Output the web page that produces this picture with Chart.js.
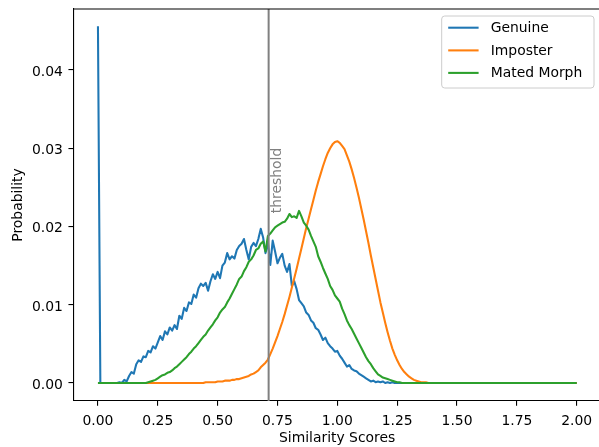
<!DOCTYPE html>
<html><head><meta charset="utf-8">
<script src="https://cdn.jsdelivr.net/npm/chart.js@4.4.0/dist/chart.umd.min.js"></script>
<style>
html,body{margin:0;padding:0;overflow:hidden;background:#fff;width:599px;height:447px}
#wrap{width:599px;height:447px;position:relative;overflow:hidden}
canvas{display:block}
</style></head>
<body><div id="wrap"><canvas id="c" width="601" height="447"></canvas></div>
<script>
// Similarity score bins (x categories)
const scores = [
0.00,0.01,0.02,0.03,0.04,0.05,0.06,0.07,0.08,0.09,
0.10,0.11,0.12,0.13,0.14,0.15,0.16,0.17,0.18,0.19,
0.20,0.21,0.22,0.23,0.24,0.25,0.26,0.27,0.28,0.29,
0.30,0.31,0.32,0.33,0.34,0.35,0.36,0.37,0.38,0.39,
0.40,0.41,0.42,0.43,0.44,0.45,0.46,0.47,0.48,0.49,
0.50,0.51,0.52,0.53,0.54,0.55,0.56,0.57,0.58,0.59,
0.60,0.61,0.62,0.63,0.64,0.65,0.66,0.67,0.68,0.69,
0.70,0.71,0.72,0.73,0.74,0.75,0.76,0.77,0.78,0.79,
0.80,0.81,0.82,0.83,0.84,0.85,0.86,0.87,0.88,0.89,
0.90,0.91,0.92,0.93,0.94,0.95,0.96,0.97,0.98,0.99,
1.00,1.01,1.02,1.03,1.04,1.05,1.06,1.07,1.08,1.09,
1.10,1.11,1.12,1.13,1.14,1.15,1.16,1.17,1.18,1.19,
1.20,1.21,1.22,1.23,1.24,1.25,1.26,1.27,1.28,1.29,
1.30,1.31,1.32,1.33,1.34,1.35,1.36,1.37,1.38,1.39,
1.40,2.00];

const genuine = [
0.0456,0,0,0,0,0,0,0,0,0.0001,
0.0000,0.0004,0.0002,0.0009,0.0014,0.0012,0.0024,0.0029,0.0027,0.0034,
0.0033,0.0041,0.0039,0.0047,0.0044,0.0052,0.0060,0.0055,0.0066,0.0062,
0.0071,0.0067,0.0074,0.0069,0.0086,0.0082,0.0096,0.0092,0.0103,0.0101,
0.0113,0.0109,0.0121,0.0127,0.0124,0.0128,0.0118,0.0130,0.0139,0.0133,
0.0142,0.0134,0.0150,0.0154,0.0166,0.0158,0.0162,0.0159,0.0170,0.0175,
0.0178,0.0184,0.0170,0.0158,0.0174,0.0179,0.0175,0.0184,0.0197,0.0186,
0.0166,0.0180,0.0151,0.0182,0.0168,0.0153,0.0160,0.0165,0.0150,0.0142,
0.0152,0.0124,0.0130,0.0120,0.0106,0.0102,0.0098,0.0090,0.0087,0.0080,
0.0077,0.0070,0.0068,0.0062,0.0055,0.0058,0.0051,0.0047,0.0044,0.0040,
0.0041,0.0035,0.0031,0.0026,0.0021,0.0023,0.0018,0.0016,0.0015,0.0012,
0.0010,0.0008,0.0006,0.0004,0.0002,0.0003,0.0001,0.0002,0.0001,0.0002,
0.0000,0.0001,0.0000,0.0001,0,0,0,0,0,0,
0,0,0,0,0,0,0,0,0,0,
0,0];

const imposter = [
0,0,0,0,0,0,0,0,0,0,
0,0,0,0,0,0,0,0,0,0,
0,0,0,0,0,0,0,0,0,0,
0,0,0,0,0,0,0,0,0,0,
0,0,0,0,0,0.0001,0.0001,0.0001,0.0001,0.0001,
0.0002,0.0002,0.0002,0.0003,0.0003,0.0003,0.0004,0.0004,0.0005,0.0005,
0.0006,0.0007,0.0008,0.0009,0.0011,0.0012,0.0014,0.0016,0.0020,0.0023,
0.0026,0.0030,0.0037,0.0044,0.0052,0.0060,0.0069,0.0078,0.0088,0.0099,
0.0110,0.0122,0.0134,0.0146,0.0159,0.0172,0.0185,0.0198,0.0210,0.0222,
0.0234,0.0246,0.0257,0.0267,0.0277,0.0286,0.0294,0.0300,0.0305,0.0308,
0.0309,0.0307,0.0303,0.0299,0.0291,0.0283,0.0273,0.0262,0.0250,0.0237,
0.0223,0.0209,0.0194,0.0179,0.0163,0.0148,0.0133,0.0118,0.0103,0.0090,
0.0077,0.0065,0.0054,0.0044,0.0036,0.0029,0.0023,0.0018,0.0014,0.0011,
0.0008,0.0006,0.0004,0.0003,0.0002,0.0001,0.0001,0.0001,0,0,
0,0];

const matedMorph = [
0,0,0,0,0,0,0,0,0,0,
0,0,0,0,0,0,0,0,0,0,
0,0.0001,0.0002,0.0003,0.0004,0.0006,0.0008,0.0010,0.0011,0.0013,
0.0014,0.0016,0.0019,0.0021,0.0024,0.0027,0.0030,0.0033,0.0037,0.0040,
0.0044,0.0047,0.0051,0.0055,0.0059,0.0062,0.0067,0.0071,0.0075,0.0080,
0.0084,0.0090,0.0094,0.0097,0.0103,0.0108,0.0114,0.0120,0.0126,0.0133,
0.0136,0.0143,0.0148,0.0155,0.0158,0.0163,0.0170,0.0172,0.0178,0.0181,
0.0168,0.0188,0.0191,0.0195,0.0199,0.0201,0.0203,0.0205,0.0206,0.0210,
0.0216,0.0212,0.0213,0.0211,0.0220,0.0213,0.0205,0.0201,0.0196,0.0188,
0.0181,0.0174,0.0162,0.0155,0.0147,0.0140,0.0133,0.0124,0.0119,0.0112,
0.0108,0.0104,0.0095,0.0088,0.0080,0.0074,0.0069,0.0063,0.0057,0.0051,
0.0045,0.0039,0.0033,0.0028,0.0024,0.0019,0.0015,0.0011,0.0009,0.0007,
0.0006,0.0005,0.0004,0.0003,0.0002,0.0001,0.0001,0,0,0,
0,0,0,0,0,0,0,0,0,0,
0,0];

const seriesNames = ['Genuine', 'Imposter', 'Mated Morph'];
const seriesColors = ['#1f77b4', '#ff7f0e', '#2ca02c'];
const xTicks = [0, 0.25, 0.5, 0.75, 1.0, 1.25, 1.5, 1.75, 2.0];
const yTicks = [0, 0.01, 0.02, 0.03, 0.04];
const threshold = 0.713;
const thresholdLabelY = 0.0217;
const xTitle = 'Similarity Scores';
const yTitle = 'Probability';
const thresholdText = 'threshold';

const FAMILY = "'DejaVu Sans', sans-serif";
const FONT = {family: FAMILY, size: 13.9};

const decor = {
  id: 'decor',
  afterDatasetsDraw(chart) {
    const ctx = chart.ctx;
    const ca = chart.chartArea;
    const xs = chart.scales.x, ys = chart.scales.y;
    ctx.save();
    // threshold line
    const tx = xs.getPixelForValue(threshold);
    ctx.strokeStyle = '#808080';
    ctx.lineWidth = 2;
    ctx.beginPath();
    ctx.moveTo(tx, ca.top);
    ctx.lineTo(tx, ca.bottom);
    ctx.stroke();
    // threshold label
    ctx.save();
    ctx.translate(tx + 12.3, ys.getPixelForValue(thresholdLabelY));
    ctx.rotate(-Math.PI / 2);
    ctx.fillStyle = '#808080';
    ctx.font = '13.9px ' + FAMILY;
    ctx.textAlign = 'left';
    ctx.textBaseline = 'alphabetic';
    ctx.fillText(thresholdText, 0, 0);
    ctx.restore();
    // top spine
    ctx.strokeStyle = '#000';
    ctx.lineWidth = 1.1;
    ctx.beginPath();
    ctx.moveTo(ca.left, ca.top);
    ctx.lineTo(ca.right, ca.top);
    ctx.stroke();
    // legend
    const lx = 441.7, ly = 16, lw = 152.3, lh = 72, r = 3;
    ctx.beginPath();
    ctx.moveTo(lx + r, ly);
    ctx.lineTo(lx + lw - r, ly);
    ctx.arcTo(lx + lw, ly, lx + lw, ly + r, r);
    ctx.lineTo(lx + lw, ly + lh - r);
    ctx.arcTo(lx + lw, ly + lh, lx + lw - r, ly + lh, r);
    ctx.lineTo(lx + r, ly + lh);
    ctx.arcTo(lx, ly + lh, lx, ly + lh - r, r);
    ctx.lineTo(lx, ly + r);
    ctx.arcTo(lx, ly, lx + r, ly, r);
    ctx.closePath();
    ctx.fillStyle = 'rgba(255,255,255,0.8)';
    ctx.fill();
    ctx.strokeStyle = '#cccccc';
    ctx.lineWidth = 1;
    ctx.stroke();
    const rowY = [27.7, 50.4, 72.9];
    chart.data.datasets.forEach((ds, i) => {
      const y = rowY[i];
      ctx.strokeStyle = ds.borderColor;
      ctx.lineWidth = 2.08;
      ctx.beginPath();
      ctx.moveTo(448.2, y);
      ctx.lineTo(478.6, y);
      ctx.stroke();
      ctx.fillStyle = '#000';
      ctx.font = '13.9px ' + FAMILY;
      ctx.textAlign = 'left';
      ctx.textBaseline = 'middle';
      ctx.fillText(ds.label, 490.7, y + 0.5);
    });
    ctx.restore();
  }
};

const seriesValues = [genuine, imposter, matedMorph];

function noPad(s) {
  s.paddingTop = 0; s.paddingBottom = 0; s.paddingLeft = 0; s.paddingRight = 0;
}

new Chart(document.getElementById('c'), {
  type: 'line',
  data: {
    datasets: seriesValues.map((vals, i) => ({
      label: seriesNames[i],
      data: scores.map((x, j) => ({x: x, y: vals[j]})),
      borderColor: seriesColors[i],
      backgroundColor: seriesColors[i],
      borderWidth: 2.08,
      pointRadius: 0,
      tension: 0,
      fill: false,
      borderJoinStyle: 'round',
      order: 3 - i
    }))
  },
  options: {
    responsive: false,
    animation: false,
    devicePixelRatio: 1,
    layout: {padding: {top: 9, right: 0, bottom: 0, left: 0}},
    plugins: {legend: {display: false}, tooltip: {enabled: false}},
    scales: {
      x: {
        type: 'linear', min: -0.103, max: 2.1015,
        afterBuildTicks: s => { s.ticks = xTicks.map(v => ({value: v})); },
        afterFit: s => { s.height = 46; noPad(s); },
        ticks: {autoSkip: false, maxRotation: 0, minRotation: 0, padding: 7, font: FONT, color: '#000',
                callback: v => Number(v).toFixed(2)},
        grid: {display: true, drawOnChartArea: false, drawTicks: true, tickLength: 4.86, color: '#000', lineWidth: 1.1},
        border: {display: true, color: '#000', width: 1.1},
        title: {display: true, text: xTitle, font: FONT, color: '#000', padding: {top: 0, bottom: 0}}
      },
      y: {
        type: 'linear', min: -0.0023, max: 0.0478,
        afterBuildTicks: s => { s.ticks = yTicks.map(v => ({value: v})); },
        afterFit: s => { s.width = 73.3; noPad(s); },
        ticks: {autoSkip: false, padding: 5.5, labelOffset: 2.2, font: FONT, color: '#000',
                callback: v => Number(v).toFixed(2)},
        grid: {display: true, drawOnChartArea: false, drawTicks: true, tickLength: 4.86, color: '#000', lineWidth: 1.1},
        border: {display: true, color: '#000', width: 1.1},
        title: {display: true, text: yTitle, font: FONT, color: '#000', padding: {top: 10, bottom: 0}}
      }
    }
  },
  plugins: [decor]
});
</script>
</body></html>
